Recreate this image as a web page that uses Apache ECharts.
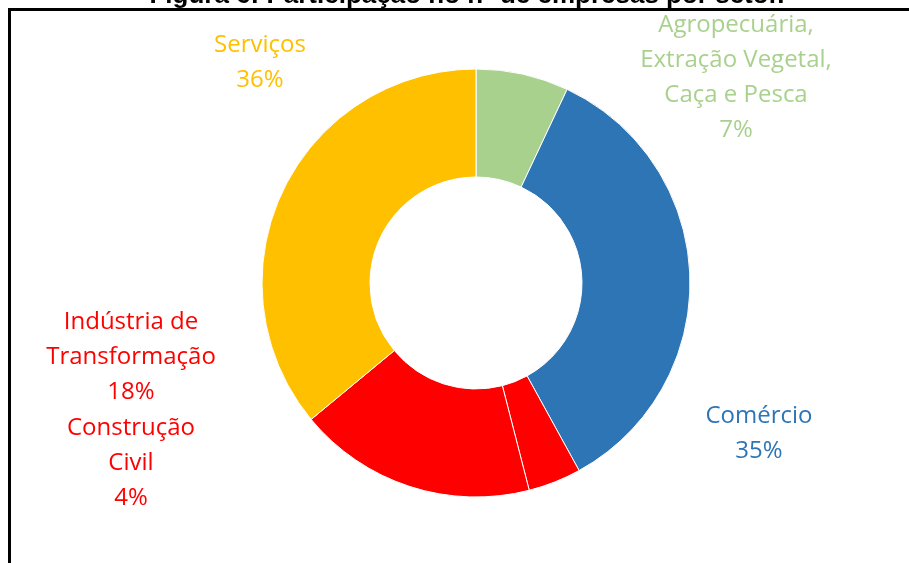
<!DOCTYPE html>
<html>
<head>
<meta charset="utf-8">
<script src="https://cdn.jsdelivr.net/npm/echarts@6/dist/echarts.min.js"></script>
<style>
  html, body { margin: 0; padding: 0; background: #ffffff; }
  #chart { width: 909px; height: 563px; }
</style>
</head>
<body>
<div id="chart"></div>
<script>
// Sectors, listed clockwise from 12 o'clock
const sectors = [
  'Agropecuária,\nExtração Vegetal,\nCaça e Pesca',
  'Comércio',
  'Construção\nCivil',
  'Indústria de\nTransformação',
  'Serviços'
];
// Share of companies per sector (%)
const shares = [7, 35, 4, 18, 36];

const sectorColors = ['#A9D18E', '#2E75B6', '#FF0000', '#FF0000', '#FFC000'];
// Where each sector's label block is centred
const labelAnchors = [[736, 78], [759, 434], [131, 463], [131, 357], [260, 63]];

const chart = echarts.init(document.getElementById('chart'), null, { renderer: 'canvas' });

chart.setOption({
  backgroundColor: '#ffffff',
  animation: false,
  graphic: [
    {
      type: 'rect',
      shape: { x: 9.5, y: 9.5, width: 940, height: 600 },
      style: { fill: 'none', stroke: '#000000', lineWidth: 3 },
      z: 10
    },
    {
      type: 'text',
      x: 467,
      y: -17,
      style: {
        text: 'Figura 6: Participação no nº de empresas por setor.',
        font: 'bold 26px "Liberation Sans", Arial, sans-serif',
        fill: '#000000',
        align: 'center',
        verticalAlign: 'top'
      },
      z: 11
    }
  ],
  series: [{
    type: 'pie',
    center: [476, 283],
    radius: [106, 214],
    startAngle: 90,
    clockwise: true,
    avoidLabelOverlap: false,
    itemStyle: { borderColor: '#ffffff', borderWidth: 1 },
    label: {
      show: true,
      position: 'outside',
      formatter: p => p.name + '\n' + p.value + '%',
      fontFamily: '"Open Sans", sans-serif',
      fontSize: 24,
      lineHeight: 35,
      align: 'center'
    },
    labelLine: { show: false },
    labelLayout: p => ({
      x: labelAnchors[p.dataIndex][0],
      y: labelAnchors[p.dataIndex][1],
      align: 'center',
      verticalAlign: 'middle'
    }),
    data: sectors.map((name, i) => ({
      name: name,
      value: shares[i],
      itemStyle: { color: sectorColors[i] },
      label: { color: sectorColors[i] }
    }))
  }]
});
</script>
</body>
</html>
